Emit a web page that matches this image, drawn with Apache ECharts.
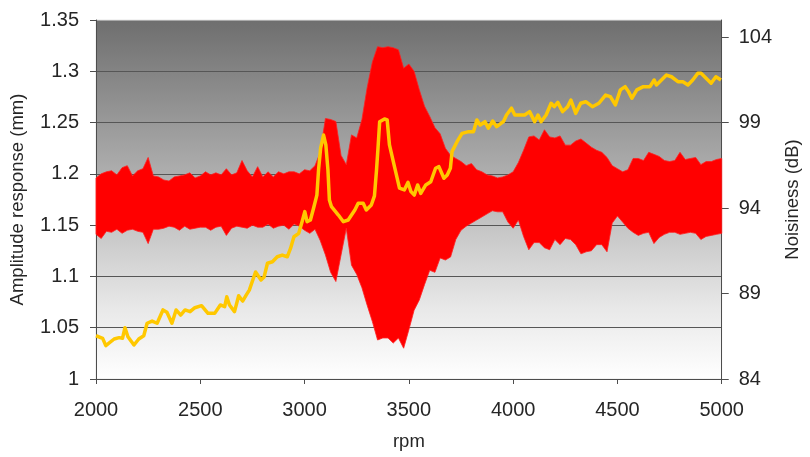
<!DOCTYPE html>
<html>
<head>
<meta charset="utf-8">
<style>
  html, body { margin: 0; padding: 0; background: #ffffff; }
  #chart { width: 810px; height: 457px; }
</style>
<script src="https://cdn.jsdelivr.net/npm/echarts@6/dist/echarts.min.js"></script>
</head>
<body>
<div id="chart"></div>
<script>
// amplitude response envelope (mm), sampled every 25 rpm
const ampRpm = [
  2000, 2025, 2050, 2075, 2100, 2125, 2150, 2175, 2200, 2225, 2250, 2275, 2300, 2325, 2350, 2375,
  2400, 2425, 2450, 2475, 2500, 2525, 2550, 2575, 2600, 2625, 2650, 2675, 2700, 2725, 2750, 2775,
  2800, 2825, 2850, 2875, 2900, 2925, 2950, 2975, 3000, 3025, 3050, 3075, 3100, 3125, 3150, 3175,
  3200, 3225, 3250, 3275, 3300, 3325, 3350, 3375, 3400, 3425, 3450, 3475, 3500, 3525, 3550, 3575,
  3600, 3625, 3650, 3675, 3700, 3725, 3750, 3775, 3800, 3825, 3850, 3875, 3900, 3925, 3950, 3975,
  4000, 4025, 4050, 4075, 4100, 4125, 4150, 4175, 4200, 4225, 4250, 4275, 4300, 4325, 4350, 4375,
  4400, 4425, 4450, 4475, 4500, 4525, 4550, 4575, 4600, 4625, 4650, 4675, 4700, 4725, 4750, 4775,
  4800, 4825, 4850, 4875, 4900, 4925, 4950, 4975, 5000
];
const ampHigh = [
  1.196, 1.200, 1.202, 1.203, 1.199, 1.206, 1.208, 1.198, 1.203, 1.205, 1.216, 1.198, 1.197, 1.194, 1.193, 1.197,
  1.198, 1.199, 1.201, 1.196, 1.198, 1.202, 1.199, 1.201, 1.199, 1.205, 1.199, 1.201, 1.213, 1.203, 1.197, 1.207,
  1.197, 1.202, 1.197, 1.202, 1.200, 1.202, 1.202, 1.200, 1.204, 1.203, 1.208, 1.221, 1.254, 1.253, 1.251, 1.218,
  1.209, 1.238, 1.235, 1.253, 1.284, 1.309, 1.324, 1.323, 1.324, 1.323, 1.321, 1.303, 1.307, 1.300, 1.282, 1.266,
  1.256, 1.245, 1.239, 1.225, 1.218, 1.215, 1.212, 1.208, 1.210, 1.204, 1.202, 1.199, 1.198, 1.196, 1.197, 1.199,
  1.202, 1.211, 1.223, 1.236, 1.237, 1.233, 1.243, 1.236, 1.235, 1.237, 1.228, 1.228, 1.232, 1.234, 1.230, 1.226,
  1.223, 1.221, 1.216, 1.208, 1.205, 1.202, 1.204, 1.215, 1.215, 1.213, 1.221, 1.219, 1.217, 1.213, 1.212, 1.213,
  1.221, 1.214, 1.215, 1.216, 1.209, 1.212, 1.212, 1.214, 1.215
];
const ampLow = [
  1.141, 1.137, 1.144, 1.143, 1.146, 1.142, 1.145, 1.146, 1.144, 1.143, 1.132, 1.146, 1.146, 1.147, 1.149, 1.148,
  1.145, 1.149, 1.146, 1.147, 1.148, 1.148, 1.145, 1.148, 1.149, 1.140, 1.147, 1.149, 1.148, 1.147, 1.150, 1.148,
  1.148, 1.151, 1.147, 1.149, 1.150, 1.146, 1.151, 1.149, 1.145, 1.142, 1.146, 1.135, 1.121, 1.104, 1.095, 1.121,
  1.147, 1.111, 1.102, 1.089, 1.072, 1.056, 1.038, 1.040, 1.040, 1.035, 1.040, 1.030, 1.048, 1.067, 1.077, 1.092,
  1.106, 1.104, 1.118, 1.116, 1.119, 1.136, 1.145, 1.149, 1.152, 1.155, 1.158, 1.161, 1.164, 1.163, 1.163, 1.153,
  1.147, 1.155, 1.139, 1.126, 1.133, 1.133, 1.128, 1.126, 1.136, 1.131, 1.137, 1.136, 1.131, 1.122, 1.124, 1.125,
  1.131, 1.131, 1.124, 1.152, 1.159, 1.153, 1.147, 1.143, 1.140, 1.142, 1.143, 1.132, 1.138, 1.141, 1.143, 1.143,
  1.141, 1.142, 1.143, 1.142, 1.136, 1.139, 1.140, 1.141, 1.142
];

// noisiness (dB)
const noiseRpm = [
  2000, 2032, 2047, 2087, 2111, 2127, 2139, 2153, 2182, 2205, 2229, 2245, 2269, 2293, 2321, 2340,
  2364, 2384, 2406, 2427, 2451, 2474, 2506, 2537, 2569, 2596, 2617, 2627, 2640, 2664, 2684, 2703,
  2720, 2735, 2765, 2791, 2806, 2822, 2846, 2869, 2893, 2917, 2933, 2949, 2972, 2988, 3001, 3012,
  3028, 3043, 3059, 3067, 3077, 3091, 3102, 3112, 3119, 3129, 3138, 3162, 3186, 3209, 3241, 3257,
  3281, 3296, 3320, 3335, 3345, 3352, 3360, 3383, 3396, 3407, 3431, 3455, 3478, 3496, 3510, 3526,
  3542, 3557, 3581, 3605, 3628, 3644, 3668, 3684, 3699, 3707, 3731, 3755, 3787, 3810, 3826, 3842,
  3865, 3881, 3902, 3921, 3953, 3968, 3992, 4008, 4055, 4079, 4103, 4119, 4134, 4158, 4182, 4197,
  4214, 4237, 4261, 4277, 4300, 4324, 4348, 4380, 4411, 4443, 4466, 4490, 4514, 4537, 4553, 4569,
  4593, 4624, 4656, 4676, 4687, 4711, 4735, 4759, 4790, 4814, 4838, 4861, 4885, 4901, 4925, 4949,
  4972, 4996
];
const noiseDb = [
  86.53, 86.38, 85.95, 86.34, 86.42, 86.38, 87.00, 86.47, 85.99, 86.34, 86.53, 87.26, 87.39, 87.26, 88.04, 87.90,
  87.26, 88.04, 87.74, 88.04, 87.94, 88.17, 88.29, 87.84, 87.84, 88.33, 88.23, 88.81, 88.33, 87.94, 88.87, 88.56,
  88.91, 89.20, 90.26, 89.79, 89.97, 90.77, 90.86, 91.15, 91.25, 91.15, 91.65, 92.32, 92.52, 93.20, 93.79, 93.20,
  93.30, 93.99, 94.76, 96.23, 97.51, 98.27, 97.69, 96.23, 94.47, 94.08, 93.99, 93.59, 93.20, 93.30, 93.89, 94.28,
  94.28, 93.89, 94.18, 94.71, 96.23, 97.51, 99.05, 99.21, 99.15, 97.69, 96.42, 95.16, 95.06, 95.50, 94.96, 94.76,
  95.35, 94.86, 95.35, 95.54, 96.33, 96.42, 95.74, 95.93, 96.33, 97.30, 97.88, 98.37, 98.47, 98.47, 99.15, 98.86,
  99.05, 98.67, 99.09, 98.76, 99.05, 99.44, 99.84, 99.44, 99.44, 99.64, 99.05, 99.44, 99.05, 99.44, 100.13, 99.93,
  100.18, 99.64, 99.93, 100.32, 99.54, 100.13, 100.22, 99.93, 100.13, 100.61, 100.52, 100.03, 100.91, 101.10, 100.81, 100.42,
  100.91, 101.10, 101.10, 101.49, 101.20, 101.49, 101.78, 101.68, 101.39, 101.39, 101.20, 101.49, 101.88, 101.88, 101.59, 101.30,
  101.68, 101.49
];

const chart = echarts.init(document.getElementById('chart'));

const textColor = '#262626';
const axisColor = '#4d4d4d';
const fontFamily = 'Liberation Sans, Arial, sans-serif';
const tickFont = { fontFamily, fontSize: 20, color: textColor };
const nameFont = { fontFamily, fontSize: 18.5, color: textColor };

const option = {
  animation: false,
  backgroundColor: '#ffffff',
  grid: {
    left: 95,
    right: 82,
    top: 20,
    bottom: 78,
    show: true,
    borderWidth: 1,
    borderColor: '#e6e6e6',
    backgroundColor: {
      type: 'linear', x: 0, y: 0, x2: 0, y2: 1,
      colorStops: [
        { offset: 0, color: '#6e6e6e' },
        { offset: 0.5, color: '#b9b9b9' },
        { offset: 0.8, color: '#e8e8e8' },
        { offset: 1, color: '#ffffff' }
      ]
    }
  },
  xAxis: {
    type: 'value',
    min: 2000,
    max: 5000,
    interval: 500,
    name: 'rpm',
    nameLocation: 'middle',
    nameGap: 53,
    nameTextStyle: nameFont,
    axisLine: { show: true, lineStyle: { color: axisColor, width: 1 } },
    axisTick: { show: true, length: 5, lineStyle: { color: axisColor } },
    axisLabel: { ...tickFont, margin: 21, formatter: (v) => String(v) },
    splitLine: { show: false }
  },
  yAxis: [
    {
      type: 'value',
      min: 1,
      max: 1.35,
      interval: 0.05,
      name: 'Amplitude response (mm)',
      nameLocation: 'middle',
      nameGap: 69,
      nameTextStyle: nameFont,
      axisLine: { show: true, lineStyle: { color: axisColor, width: 1 } },
      axisTick: { show: true, length: 6, lineStyle: { color: axisColor } },
      axisLabel: { ...tickFont, margin: 17 },
      splitLine: { show: true, showMaxLine: false, lineStyle: { color: '#565656', width: 1 } }
    },
    {
      type: 'value',
      min: 84,
      max: 105,
      interval: 5,
      position: 'right',
      name: 'Noisiness (dB)',
      nameLocation: 'middle',
      nameGap: 61,
      nameRotate: 90,
      nameTextStyle: nameFont,
      axisLine: { show: true, lineStyle: { color: axisColor, width: 1 } },
      axisTick: { show: true, length: 7, lineStyle: { color: axisColor } },
      axisLabel: { ...tickFont, margin: 17, showMaxLabel: false },
      splitLine: { show: false }
    }
  ],
  series: [
    {
      name: 'Amplitude response',
      type: 'custom',
      xAxisIndex: 0,
      yAxisIndex: 0,
      encode: { x: 0, y: [1, 2] },
      data: ampRpm.map((r, i) => [r, ampLow[i], ampHigh[i]]),
      renderItem: function (params, api) {
        if (params.dataIndex !== 0) return null;
        const pts = [];
        for (let i = 0; i < ampRpm.length; i++) pts.push(api.coord([ampRpm[i], ampHigh[i]]));
        for (let i = ampRpm.length - 1; i >= 0; i--) pts.push(api.coord([ampRpm[i], ampLow[i]]));
        return {
          type: 'polygon',
          shape: { points: pts },
          style: { fill: '#ff0000', stroke: '#ff2020', lineWidth: 0.8 }
        };
      },
      z: 2
    },
    {
      name: 'Noisiness',
      type: 'line',
      yAxisIndex: 1,
      data: noiseRpm.map((r, i) => [r, noiseDb[i]]),
      symbol: 'none',
      lineStyle: { color: '#ffc800', width: 3.5, join: 'round' },
      z: 3
    }
  ]
};

chart.setOption(option);
</script>
</body>
</html>
